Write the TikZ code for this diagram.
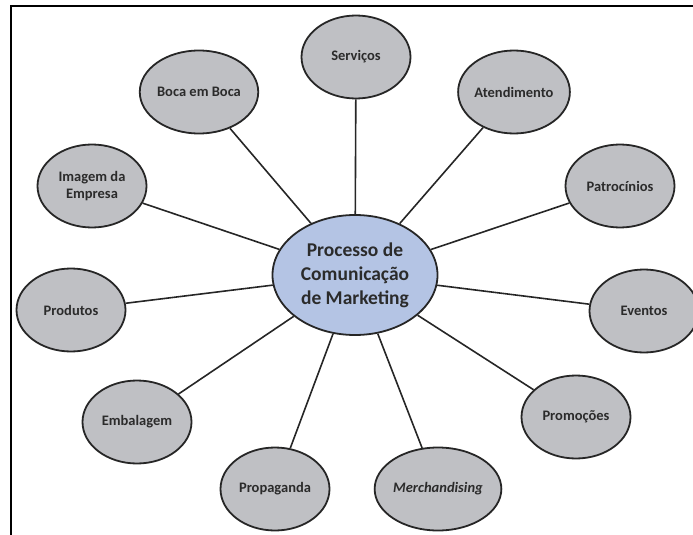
\documentclass[tikz,border=0pt]{standalone}
\usepackage{fontspec}
\setmainfont{Carlito}
\usetikzlibrary{shapes.geometric}
\definecolor{leafgray}{HTML}{BFC0C4}
\definecolor{hubblue}{HTML}{B4C4E4}
\definecolor{inkdark}{HTML}{262626}
\definecolor{textdark}{HTML}{2B2B2B}
\tikzset{
  leaf/.style={ellipse, draw=inkdark, line width=1.8pt, fill=leafgray,
    minimum width=109pt, minimum height=83pt, inner sep=0pt, align=center,
    text=textdark, font=\fontsize{14.5}{17}\selectfont\bfseries},
  hub/.style={ellipse, draw=inkdark, line width=1.8pt, fill=hubblue,
    minimum width=165pt, minimum height=120pt, inner sep=0pt, align=center,
    text=textdark, font=\fontsize{19.5}{24}\selectfont\bfseries},
  spoke/.style={draw=inkdark, line width=1.6pt},
  frame/.style={draw=black, line width=2.4pt}
}
\begin{document}
\begin{tikzpicture}[x=1pt,y=-1pt]
  \useasboundingbox (0,0) rectangle (693,535);
  % page frame: top and left rules
  \coordinate (fbl) at (11,536);
  \coordinate (ftl) at (11,6);
  \coordinate (ftr) at (694,6);
  \draw[frame] (fbl) -- (ftl) -- (ftr);

  % hub
  \node[hub] (hub) at (355,275) {Processo de\\Comunicação\\de Marketing};

  % surrounding topics
  \node[leaf] (serv) at (356,57)  {Serviços};
  \node[leaf] (boca) at (199,92)  {Boca em Boca};
  \node[leaf] (aten) at (514,92)  {Atendimento};
  \node[leaf] (imag) at (92,186)  {Imagem da\\Empresa};
  \node[leaf] (patr) at (620,186) {Patrocínios};
  \node[leaf] (prod) at (71,310)  {Produtos};
  \node[leaf] (even) at (644,311) {Eventos};
  \node[leaf] (emba) at (137,422) {Embalagem};
  \node[leaf] (prom) at (576,417) {Promoções};
  \node[leaf] (prop) at (275,489) {Propaganda};
  \node[leaf] (merc) at (438,489) {\itshape Merchandising};

  % spokes from the hub to every topic
  \foreach \n in {serv,boca,aten,imag,patr,prod,even,emba,prom,prop,merc}
    \draw[spoke] (hub) -- (\n);
\end{tikzpicture}
\end{document}
